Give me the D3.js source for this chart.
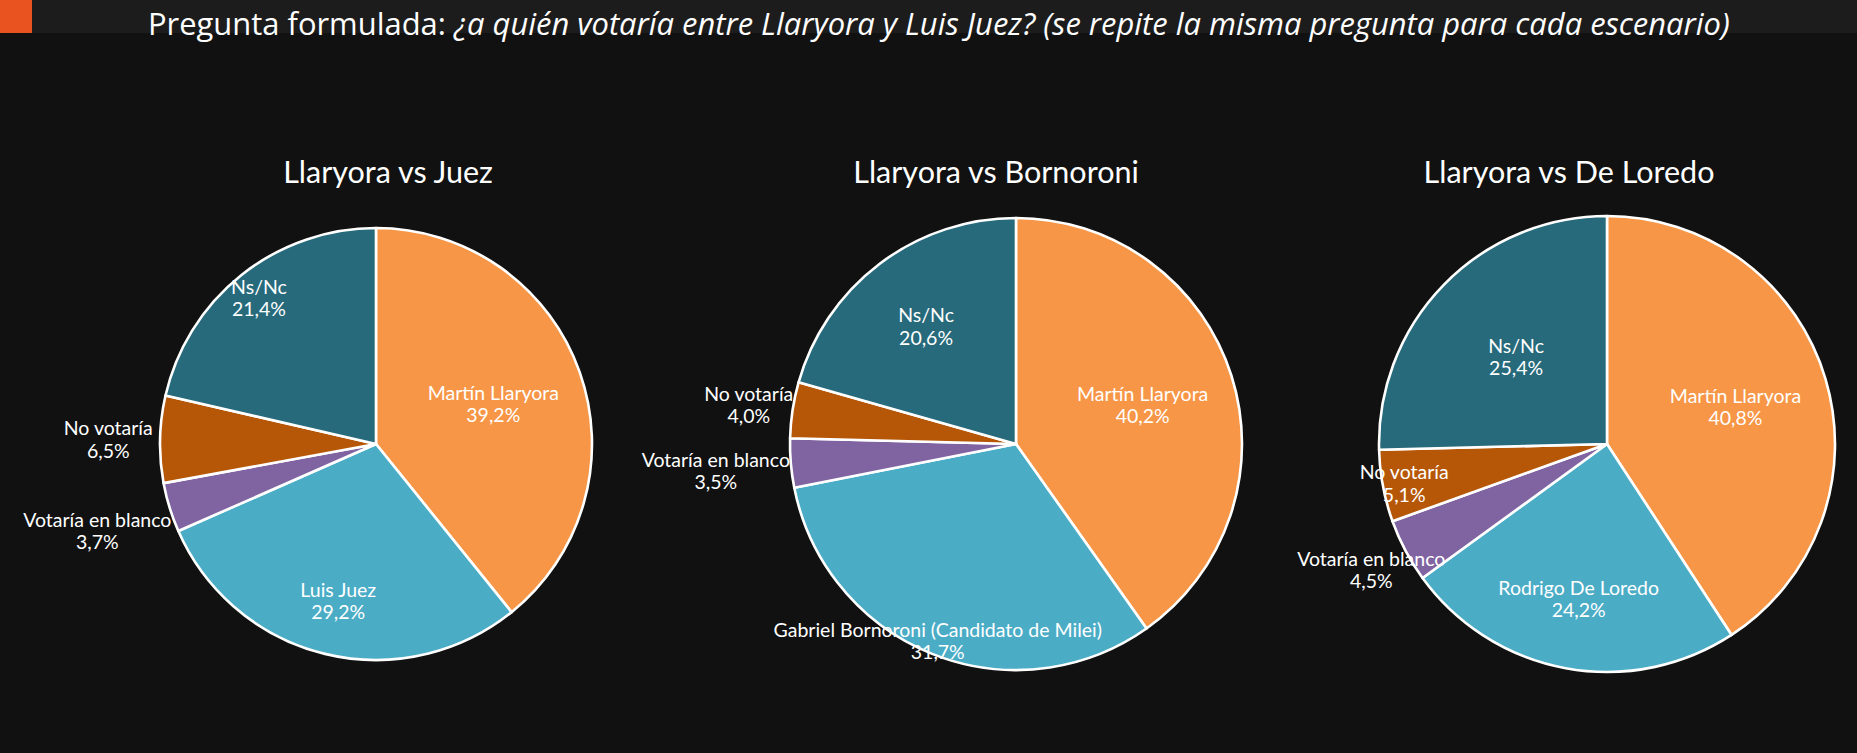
<!DOCTYPE html>
<html><head><meta charset="utf-8">
<script src="https://cdn.jsdelivr.net/npm/d3@7"></script>
<style>
html,body{margin:0;padding:0;background:#111111;overflow:hidden;}
svg{display:block;}
</style></head>
<body>
<svg id="chart" width="1857" height="753"></svg>
<script>
// ---- data ----
const categories = ["Martín Llaryora", "Candidato", "Votaría en blanco", "No votaría", "Ns/Nc"];
const chartTitles = ["Llaryora vs Juez", "Llaryora vs Bornoroni", "Llaryora vs De Loredo"];
const candidateNames = ["Luis Juez", "Gabriel Bornoroni (Candidato de Milei)", "Rodrigo De Loredo"];
const valuesJuez = [39.2, 29.2, 3.7, 6.5, 21.4];
const valuesBornoroni = [40.2, 31.7, 3.5, 4.0, 20.6];
const valuesDeLoredo = [40.8, 24.2, 4.5, 5.1, 25.4];
const sliceColors = ["#F79646", "#4BACC6", "#8064A2", "#B65708", "#276A7B"];
const mainTitle = "Pregunta formulada: ";
const mainTitleItalic = "¿a quién votaría entre Llaryora y Luis Juez? (se repite la misma pregunta para cada escenario)";

// ---- layout (positions / styles) ----
const pies = [
  {cx: 376, cy: 444, r: 216, titleX: 388, labelR: [0.576, 0.74, 1.35, 1.24, 0.87]},
  {cx: 1016, cy: 444, r: 226, titleX: 996, labelR: [0.588, 0.933, 1.333, 1.196, 0.66]},
  {cx: 1607, cy: 444, r: 228, titleX: 1569, labelR: [0.588, 0.685, 1.17, 0.905, 0.557]}
];
const seriesList = [valuesJuez, valuesBornoroni, valuesDeLoredo];

const svg = d3.select("#chart");
const W = 1857;

// header band
svg.append("rect").attr("x", 0).attr("y", 0).attr("width", W).attr("height", 33).attr("fill", "#1c1c1c");
svg.append("rect").attr("x", 0).attr("y", 0).attr("width", 32).attr("height", 33).attr("fill", "#E8531F");

const t = svg.append("text")
  .attr("x", 148).attr("y", 35)
  .attr("font-family", "'Open Sans', sans-serif")
  .attr("font-size", 28)
  .attr("fill", "#ffffff");
t.append("tspan").text(mainTitle);
t.append("tspan").attr("font-style", "italic").text(mainTitleItalic);
// fit title width to reference extent
const tw = t.node().getComputedTextLength();
const targetW = 1730 - 148;
if (Math.abs(tw - targetW) > 4) {
  t.attr("font-size", 28 * targetW / tw);
}

const pie = d3.pie().sort(null).value(d => d).startAngle(0).endAngle(2 * Math.PI);
const labelFont = "Lato, 'Open Sans', sans-serif";

pies.forEach((p, i) => {
  const vals = seriesList[i];
  const names = categories.slice();
  names[1] = candidateNames[i];
  const g = svg.append("g").attr("transform", `translate(${p.cx},${p.cy})`);
  const arcs = pie(vals);
  const arc = d3.arc().innerRadius(0).outerRadius(p.r);
  g.selectAll("path.slice").data(arcs).enter().append("path")
    .attr("class", "slice")
    .attr("d", arc)
    .attr("fill", (d, j) => sliceColors[j])
    .attr("stroke", "#ffffff")
    .attr("stroke-width", 2.6)
    .attr("stroke-linejoin", "round");

  // titles
  svg.append("text")
    .attr("x", p.titleX).attr("y", 183)
    .attr("text-anchor", "middle")
    .attr("font-family", labelFont)
    .attr("font-size", 30.5)
    .attr("fill", "#ffffff")
    .text(chartTitles[i]);

  // labels
  arcs.forEach((d, j) => {
    const rr = p.r * p.labelR[j];
    const la = d3.arc().innerRadius(rr).outerRadius(rr);
    const [lx, ly] = la.centroid(d);
    const txt = g.append("text")
      .attr("x", lx).attr("y", ly)
      .attr("text-anchor", "middle")
      .attr("font-family", labelFont)
      .attr("font-size", 19.5)
      .attr("fill", "#ffffff");
    txt.append("tspan").attr("x", lx).attr("dy", "-0.14em").text(names[j]);
    txt.append("tspan").attr("x", lx).attr("dy", "1.14em")
      .text(d3.format(".1f")(vals[j]).replace(".", ",") + "%");
  });
});
</script>
</body></html>
